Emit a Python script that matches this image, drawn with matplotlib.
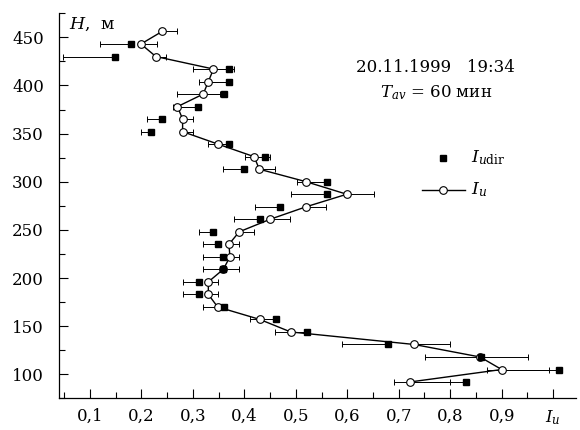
import numpy as np
import matplotlib
matplotlib.use("Agg")
import matplotlib.pyplot as plt
from matplotlib.lines import Line2D
from matplotlib.ticker import FixedLocator, MultipleLocator

plt.rcParams['font.family'] = ['DejaVu Serif']
plt.rcParams['mathtext.fontset'] = 'dejavuserif'

# ---- data ----
H_u = [456, 443, 430, 417, 404, 391, 378, 365, 352, 339, 326, 313, 300, 287, 274,
       261, 248, 235, 222, 209, 196, 183, 170, 157, 144, 131, 118, 105, 92]
I_u = [0.240, 0.199, 0.228, 0.340, 0.330, 0.320, 0.270, 0.280, 0.280, 0.349, 0.419,
       0.429, 0.520, 0.599, 0.520, 0.450, 0.390, 0.370, 0.372, 0.359, 0.330, 0.330,
       0.348, 0.430, 0.490, 0.730, 0.858, 0.900, 0.721]
I_u_err = [0.029, 0.031, 0.019, 0.040, 0.045, 0.033, 0.035, 0.021, 0.021, 0.025, 0.030,
           0.031, 0.040, 0.052, 0.039, 0.039, 0.029, 0.020, 0.018, 0.031, 0.018, 0.018,
           0.015, 0.030, 0.030, 0.070, 0.093, 0.091, 0.079]

H_dir = [443, 430, 417, 404, 391, 378, 365, 352, 339, 326, 313, 300, 287, 274,
         261, 248, 235, 222, 209, 196, 183, 170, 157, 144, 131, 118, 105, 92]
I_udir = [0.180, 0.149, 0.370, 0.370, 0.361, 0.310, 0.240, 0.219, 0.370, 0.440, 0.400,
          0.561, 0.561, 0.469, 0.431, 0.339, 0.349, 0.359, 0.359, 0.311, 0.311, 0.361,
          0.461, 0.521, 0.680, 0.860, 1.011, 0.831]
I_udir_err = [0.060, 0.101, 0.069, 0.059, 0.091, 0.048, 0.030, 0.019, 0.040, 0.039, 0.041,
              0.059, 0.071, 0.048, 0.051, 0.028, 0.030, 0.040, 0.040, 0.031, 0.031, 0.042,
              0.050, 0.061, 0.090, 0.109, 0.140, 0.140]

x_ticks = [0.1, 0.2, 0.3, 0.4, 0.5, 0.6, 0.7, 0.8, 0.9, 1.0]
x_labels = ['0,1', '0,2', '0,3', '0,4', '0,5', '0,6', '0,7', '0,8', '0,9', '$I_u$']
y_ticks = [100, 150, 200, 250, 300, 350, 400, 450]

# ---- figure ----
fig = plt.figure(figsize=(5.8, 4.3), dpi=100)
ax = fig.add_axes([59.1 / 580, 31.6 / 430, 517.2 / 580, 385.2 / 430])

zeros_u = np.zeros(len(I_u))
zeros_d = np.zeros(len(I_udir))
ax.errorbar(I_u, H_u, xerr=[zeros_u, I_u_err], fmt='none', ecolor='black',
            elinewidth=0.7, capsize=2.3, capthick=0.7, zorder=2)
ax.errorbar(I_udir, H_dir, xerr=[I_udir_err, zeros_d], fmt='none', ecolor='black',
            elinewidth=0.7, capsize=2.3, capthick=0.7, zorder=2)
ax.plot(I_u, H_u, '-o', color='black', lw=1.0, mfc='white', mec='black',
        ms=5.5, mew=0.8, zorder=3)
ax.plot(I_udir, H_dir, 's', color='black', ms=4.5, zorder=4)

ax.set_xlim(0.04, 1.045)
ax.set_ylim(75, 475)
ax.spines['top'].set_visible(False)
ax.spines['right'].set_visible(False)
for s in ax.spines.values():
    s.set_linewidth(0.9)

ax.xaxis.set_major_locator(FixedLocator(x_ticks))
ax.set_xticklabels(x_labels)
ax.xaxis.set_minor_locator(MultipleLocator(0.05))
ax.yaxis.set_major_locator(FixedLocator(y_ticks))
ax.yaxis.set_minor_locator(MultipleLocator(25))
ax.tick_params(which='both', direction='in', labelsize=12, width=0.8)
ax.tick_params(which='major', length=6.5)
ax.tick_params(which='minor', length=4)
ax.tick_params(axis='y', pad=11)
ax.tick_params(axis='x', pad=7)

ax.text(0.06, 463, '$H$,  м', fontsize=12.5, ha='left', va='center')

ax.text(0.728, 0.858, '20.11.1999   19:34', transform=ax.transAxes, fontsize=12,
        ha='center', va='center')
ax.text(0.728, 0.793, '$T_{av}$ = 60 мин', transform=ax.transAxes, fontsize=12,
        ha='center', va='center')

# legend
lx = 443 / 580
fig.add_artist(Line2D([lx], [1 - 158 / 430], marker='s', color='black', ms=4.5,
                      ls='none', transform=fig.transFigure))
fig.add_artist(Line2D([422 / 580, 465 / 580], [1 - 190 / 430] * 2, color='black', lw=1.0,
                      transform=fig.transFigure))
fig.add_artist(Line2D([lx], [1 - 190 / 430], marker='o', color='black', mfc='white',
                      ms=5.5, mew=0.8, ls='none', transform=fig.transFigure))
fig.text(471 / 580, 1 - 158 / 430, r'$I_{u\mathrm{dir}}$', fontsize=12.5, ha='left', va='center')
fig.text(471 / 580, 1 - 190 / 430, r'$I_u$', fontsize=12.5, ha='left', va='center')

fig.savefig('out.png', dpi=100)
